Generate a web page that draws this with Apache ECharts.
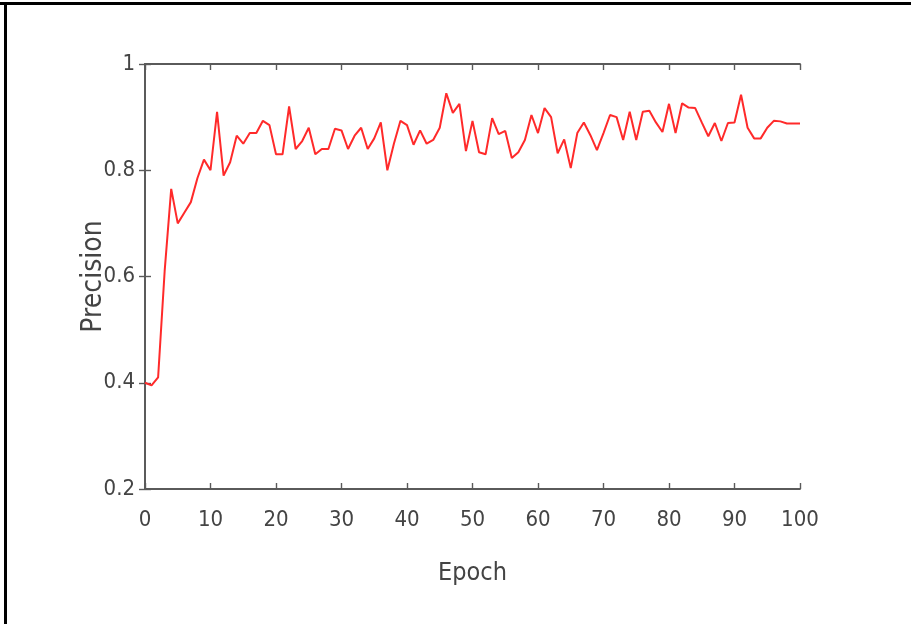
<!DOCTYPE html>
<html>
<head>
<meta charset="utf-8">
<script src="https://cdn.jsdelivr.net/npm/echarts@6/dist/echarts.min.js"></script>
<style>
	html, body { margin: 0; padding: 0; background: #fff; }
	#chart_precision { width: 911px; height: 624px; }
</style>
</head>
<body>
<div id="chart_precision"></div>
<script>
	// precision per epoch, 0..100
	var precision = [
		0.40, 0.395, 0.41, 0.61, 0.765, 0.70, 0.72, 0.74, 0.785, 0.82,
		0.80, 0.91, 0.79, 0.815, 0.865, 0.85, 0.87, 0.87, 0.893, 0.885,
		0.83, 0.83, 0.92, 0.84, 0.855, 0.88, 0.83, 0.84, 0.84, 0.878,
		0.875, 0.84, 0.865, 0.88, 0.84, 0.86, 0.89, 0.80, 0.85, 0.893,
		0.885, 0.848, 0.875, 0.85, 0.857, 0.88, 0.945, 0.908, 0.925, 0.836,
		0.893, 0.834, 0.83, 0.898, 0.868, 0.874, 0.823, 0.834, 0.857, 0.904,
		0.87, 0.917, 0.90, 0.832, 0.858, 0.804, 0.87, 0.89, 0.866, 0.838,
		0.87, 0.904, 0.90, 0.857, 0.91, 0.857, 0.91, 0.912, 0.89, 0.872,
		0.925, 0.87, 0.926, 0.918, 0.917, 0.89, 0.864, 0.889, 0.855, 0.889,
		0.89, 0.942, 0.88, 0.86, 0.86, 0.88, 0.893, 0.892, 0.888, 0.888,
		0.888
	];

	var axisFont = "'DejaVu Sans Condensed', 'Liberation Sans', sans-serif";
	var axisColor = '#5a5a5a';

	var boxLine = { show: true, lineStyle: { color: axisColor, width: 1.8 } };
	var innerTick = { show: true, inside: true, length: 6, lineStyle: { color: axisColor, width: 1.4 } };

	var option = {
		backgroundColor: '#fff',
		animation: false,
		grid: { left: 145, right: 111, top: 64, bottom: 135 },
		graphic: [
			{ type: 'line', shape: { x1: 0, y1: 3.5, x2: 911, y2: 3.5 }, style: { stroke: '#000', lineWidth: 3 } },
			{ type: 'line', shape: { x1: 5.5, y1: 2, x2: 5.5, y2: 624 }, style: { stroke: '#000', lineWidth: 3 } }
		],
		xAxis: [{
			type: 'value',
			min: 0,
			max: 100,
			interval: 10,
			name: 'Epoch',
			nameLocation: 'middle',
			nameGap: 72,
			nameMoveOverlap: false,
			nameTextStyle: { fontFamily: axisFont, fontSize: 25, color: '#444' },
			axisLine: boxLine,
			axisTick: innerTick,
			splitLine: { show: false },
			axisLabel: { fontFamily: axisFont, fontSize: 22, color: '#444', margin: 20 }
		}, {
			type: 'value',
			position: 'top',
			min: 0,
			max: 100,
			interval: 10,
			axisLine: boxLine,
			axisTick: innerTick,
			splitLine: { show: false },
			axisLabel: { show: false }
		}],
		yAxis: [{
			type: 'value',
			min: 0.2,
			max: 1,
			interval: 0.2,
			name: 'Precision',
			nameLocation: 'middle',
			nameGap: 37,
			nameMoveOverlap: false,
			nameTextStyle: { fontFamily: axisFont, fontSize: 28, color: '#444' },
			axisLine: boxLine,
			axisTick: innerTick,
			splitLine: { show: false },
			axisLabel: {
				fontFamily: axisFont, fontSize: 22, color: '#444', margin: 10,
				formatter: function(v) { return String(+v.toFixed(1)); }
			}
		}, {
			type: 'value',
			position: 'right',
			min: 0.2,
			max: 1,
			interval: 0.2,
			axisLine: boxLine,
			axisTick: innerTick,
			splitLine: { show: false },
			axisLabel: { show: false }
		}],
		series: [{
			name: 'Precision',
			type: 'line',
			showSymbol: false,
			xAxisIndex: 0,
			yAxisIndex: 0,
			lineStyle: { color: '#ff2a2a', width: 2 },
			data: precision.map(function(v, i) { return [i, v]; })
		}]
	};

	var myChart = echarts.init(document.getElementById('chart_precision'));
	myChart.setOption(option);
</script>
</body>
</html>
